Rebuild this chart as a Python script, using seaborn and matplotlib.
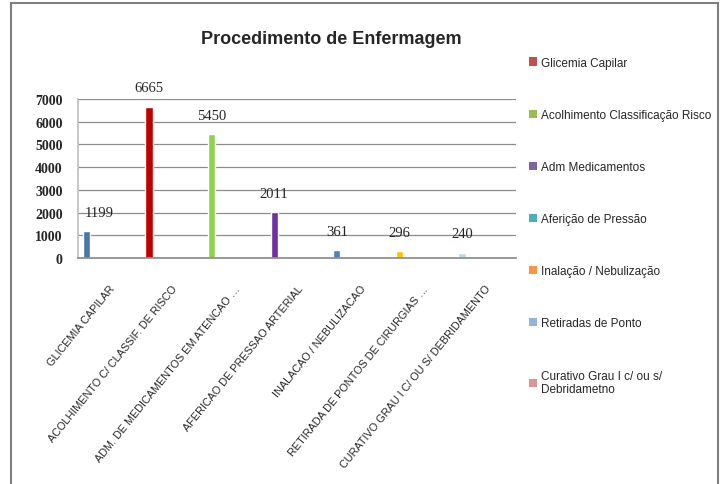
import matplotlib
matplotlib.use("Agg")
import matplotlib.pyplot as plt
from matplotlib.patches import Patch, Rectangle
import seaborn as sns
import numpy as np

# ── DATA ──────────────────────────────────────────────────────────────────────
categories = [
    "GLICEMIA CAPILAR",
    "ACOLHIMENTO C/ CLASSIF. DE RISCO",
    "ADM. DE MEDICAMENTOS EM ATENCAO …",
    "AFERICAO DE PRESSAO ARTERIAL",
    "INALACAO / NEBULIZACAO",
    "RETIRADA DE PONTOS DE CIRURGIAS …",
    "CURATIVO GRAU I C/ OU S/ DEBRIDAMENTO",
]
values = [1199, 6665, 5450, 2011, 361, 296, 240]
bar_colors = ["#4A76A8", "#C00000", "#92D050", "#7030A0", "#4F81BD", "#FFC000", "#B7DEE8"]

legend_labels = [
    "Glicemia Capilar",
    "Acolhimento Classificação Risco",
    "Adm Medicamentos",
    "Aferição de Pressão",
    "Inalação / Nebulização",
    "Retiradas de Ponto",
    "Curativo Grau I c/ ou s/\nDebridametno",
]
legend_colors = ["#C0504D", "#9BBB59", "#8064A2", "#4BACC6", "#F79646", "#95B3D7", "#D99694"]

# ── STYLE ─────────────────────────────────────────────────────────────────────
sns.set_theme(style="white")
plt.rcParams["font.family"] = ["Liberation Sans", "DejaVu Sans"]
GRID = "#8C8C8C"
SERIF = ["Liberation Serif", "DejaVu Serif"]

fig = plt.figure(figsize=(7.28, 4.85), dpi=100)
ax = fig.add_axes([78 / 728, 1 - 259 / 485, 438 / 728, 159 / 485])

sns.barplot(x=categories, y=values, hue=categories, palette=bar_colors,
            width=0.115, legend=False, ax=ax, saturation=1)

# bars sit near the left edge of each category slot (Excel-like look)
OFF = 0.136
n = len(categories)
ax.set_xlim(-OFF, n - OFF)
ax.set_ylim(0, 7000)
ax.set_yticks(range(0, 7001, 1000))
ax.set_yticklabels([str(v) for v in range(0, 7001, 1000)], family=SERIF,
                   fontsize=10, fontweight="bold")
ax.tick_params(axis="y", length=5, color=GRID, pad=6)

ax.set_xticks(np.arange(n + 1) - OFF)
ax.set_xticklabels([])
ax.tick_params(axis="x", which="major", length=4, color=GRID, direction="out")
ax.set_xticks(np.arange(n) + 0.5 - OFF, minor=True)
ax.set_xticklabels(categories, minor=True, rotation=51, ha="right", va="top",
                   rotation_mode="anchor", fontsize=7.8)
ax.tick_params(axis="x", which="minor", length=0, pad=18)
ax.set_xlabel("")
ax.set_ylabel("")

ax.yaxis.grid(True, color=GRID, lw=0.9)
ax.set_axisbelow(True)
for s in ["top", "right"]:
    ax.spines[s].set_visible(False)
ax.spines["left"].set_color("#BFBFBF")
ax.spines["bottom"].set_color(GRID)

# data labels
for i, v in enumerate(values):
    dx = 9 if i == 0 else 0
    ax.annotate(f"{v}", xy=(i, v), xytext=(dx, 13.5), textcoords="offset points",
                ha="center", va="center", family=SERIF, fontsize=10.5,
                annotation_clip=False)

fig.text(331 / 728, 1 - 40 / 485, "Procedimento de Enfermagem",
         ha="center", va="center", fontsize=13, fontweight="bold")

handles = [Patch(facecolor=c, edgecolor="none") for c in legend_colors]
fig.legend(handles, legend_labels, loc="upper left",
           bbox_to_anchor=(524 / 728, 1 - 53 / 485), frameon=False,
           fontsize=8.5, handlelength=0.7, handleheight=0.7,
           handletextpad=0.3, labelspacing=3.4, borderaxespad=0)

fig.patches.append(Rectangle((11 / 728, -0.02), 707 / 728, 1 - 4 / 485 + 0.02,
                             transform=fig.transFigure, fill=False,
                             edgecolor="#7F7F7F", lw=1.5))

plt.savefig("out.png", dpi=100)
